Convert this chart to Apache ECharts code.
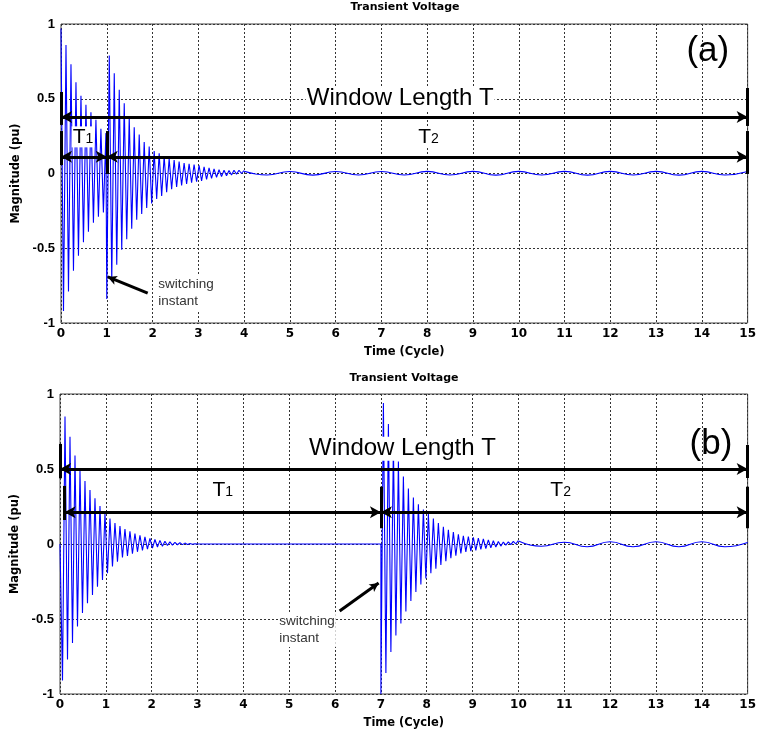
<!DOCTYPE html>
<html>
<head>
<meta charset="utf-8">
<title>Transient Voltage</title>
<script src="https://cdn.jsdelivr.net/npm/echarts@6/dist/echarts.min.js"></script>
<style>
  html, body { margin: 0; padding: 0; background: #fff; }
  #chart { width: 759px; height: 736px; }
</style>
</head>
<body>
<div id="chart"></div>
<script>
// tick labels
const xTicks = [0, 1, 2, 3, 4, 5, 6, 7, 8, 9, 10, 11, 12, 13, 14, 15];
const yTicks = [-1, -0.5, 0, 0.5, 1];

const halfStep = 0.0545;
// slow ripple after the ringing dies out, one value every half cycle
const rippleStep = 0.5;

// (a) switching at t = 1
const aStart1 = 0;
const aWave1 = [0.97, -0.92, 0.86, -0.79, 0.73, -0.65, 0.61, -0.55, 0.52, -0.46,
  0.46, -0.39, 0.41, -0.33, 0.36, -0.29, 0.30, -0.26, 0.27];
const aSwitch = 1;
const aWave2 = [-0.84, 0.79, -0.72, 0.67, -0.61, 0.56, -0.51, 0.47, -0.44, 0.38,
  -0.37, 0.31, -0.31, 0.26, -0.27, 0.21, -0.23, 0.18, -0.20, 0.15,
  -0.17, 0.135, -0.15, 0.115, -0.125, 0.10, -0.105, 0.09, -0.09, 0.08,
  -0.08, 0.07, -0.07, 0.065, -0.062, 0.06, -0.055, 0.055, -0.05, 0.045,
  -0.04, 0.037, -0.032, 0.03, -0.025, 0.025, -0.02, 0.022, -0.015, 0.02,
  -0.01, 0.022, -0.005, 0.022, 0.0, 0.02];
const aTailStart = 4;
const aTail = [0.015, -0.010, 0.013, -0.011, 0.013, -0.010, 0.013, -0.010, 0.014, -0.010,
  0.014, -0.011, 0.014, -0.010, 0.014, -0.011, 0.014, -0.010, 0.014, -0.011,
  0.014, -0.010, 0.013];

// (b) switching at t = 7
const bStart1 = 0;
const bWave1 = [0.0, -0.91, 0.85, -0.77, 0.715, -0.66, 0.59, -0.55, 0.49, -0.46,
  0.42, -0.395, 0.36, -0.34, 0.305, -0.285, 0.253, -0.24, 0.207, -0.195,
  0.17, -0.15, 0.14, -0.118, 0.12, -0.09, 0.10, -0.08, 0.085, -0.065,
  0.07, -0.052, 0.058, -0.042, 0.047, -0.034, 0.038, -0.027, 0.03, -0.02,
  0.024, -0.015, 0.018, -0.01, 0.014, -0.007, 0.011, -0.005, 0.008, -0.004,
  0.006, -0.003, 0.004, -0.002, 0.002, 0.0];
const bQuiet = 0;
const bSwitch = 7;
const bWave2 = [-1.0, 0.94, -0.86, 0.80, -0.72, 0.66, -0.61, 0.55, -0.53, 0.45,
  -0.45, 0.37, -0.38, 0.31, -0.32, 0.265, -0.27, 0.23, -0.23, 0.20,
  -0.195, 0.17, -0.165, 0.14, -0.14, 0.115, -0.115, 0.095, -0.095, 0.08,
  -0.078, 0.065, -0.063, 0.055, -0.052, 0.05, -0.047, 0.045, -0.042, 0.04,
  -0.036, 0.034, -0.03, 0.028, -0.025, 0.022, -0.02, 0.017, -0.014, 0.013,
  -0.008, 0.014, -0.004, 0.018, 0.0, 0.022];
const bTailStart = 10;
const bTail = [0.02, -0.015, 0.012, -0.018, 0.015, -0.018, 0.015, -0.018, 0.015, -0.018, 0.01];

function ringing(start, values) {
  return values.map((v, i) => [+(start + i * halfStep).toFixed(4), v]);
}
function ripple(start, values) {
  return values.map((v, i) => [start + i * rippleStep, v]);
}

const blue = '#0000ff';
const labelFont = 'Liberation Sans, Arial, sans-serif';
const axisFont = 'DejaVu Sans, sans-serif';

// arrows and bars of the window sketch
function arrow(x1, y1, x2, y2, both, width) {
  return [
    { coord: [x1, y1], symbol: both ? 'arrow' : 'none', symbolSize: [9, 11] },
    { coord: [x2, y2], symbol: 'arrow', symbolSize: width < 2 ? [7, 9] : [9, 11],
      lineStyle: { width: width } }
  ];
}
function bar(x, y1, y2) {
  return [{ coord: [x, y1], symbol: 'none' }, { coord: [x, y2], symbol: 'none' }];
}
function text(x, y, str, opts) {
  return {
    coord: [x, y],
    symbol: 'circle', symbolSize: 1,
    itemStyle: { color: 'rgba(0,0,0,0)' },
    label: Object.assign({
      show: true, position: 'inside', formatter: str,
      fontFamily: labelFont, color: '#000'
    }, opts)
  };
}
const subRich = {
  t: { fontFamily: labelFont, fontSize: 21, color: '#000' },
  s: { fontFamily: labelFont, fontSize: 14, color: '#000', verticalAlign: 'bottom', padding: [0, 0, 1, 0] }
};
const boxed = { backgroundColor: '#fff', padding: [0, 1] };

function markers(p) {
  return {
    markLine: {
      silent: true, animation: false,
      label: { show: false },
      lineStyle: { color: '#000', width: 2.5, type: 'solid' },
      data: [
        arrow(0, p.winY, 15, p.winY, true, 2.5),
        arrow(p.t1From, p.tY, p.sw, p.tY, true, 2.5),
        arrow(p.sw, p.tY, 15, p.tY, true, 2.5),
        bar(p.winBarX, p.winBar[0], p.winBar[1]),
        bar(15, p.winBarR[0], p.winBarR[1]),
        bar(p.t1BarX, p.tBar[0], p.tBar[1]),
        bar(p.sw, p.swBar[0], p.swBar[1]),
        bar(15, p.swBar[0], p.swBar[1]),
        arrow(p.note[0], p.note[1], p.noteTip[0], p.noteTip[1], false, 1.3)
      ].map(d => { d.forEach(e => { e.lineStyle = Object.assign({ color: '#000', width: 3 }, e.lineStyle); }); return d; })
    },
    markPoint: {
      silent: true, animation: false,
      data: [
        text(p.winText[0], p.winText[1], 'Window Length T', Object.assign({ fontSize: 24 }, boxed)),
        text(p.t1Text[0], p.t1Text[1], '{t|T}{s|1}', Object.assign({ rich: subRich }, boxed)),
        text(p.t2Text[0], p.t2Text[1], '{t|T}{s|2}', Object.assign({ rich: subRich }, boxed)),
        text(p.tag[0], p.tag[1], p.tagText, { fontSize: 35 }),
        text(p.noteText[0], p.noteText[1], 'switching\ninstant',
          Object.assign({ position: 'right', distance: 0, fontSize: 13.5, lineHeight: 17, color: '#333', align: 'left' }, boxed))
      ]
    }
  };
}

const panelA = {
  winY: 0.378, tY: 0.112, sw: aSwitch, t1From: 0,
  winBarX: 0, winBar: [0.545, 0.325], winBarR: [0.572, 0.318],
  t1BarX: 0, tBar: [0.284, 0.057], swBar: [0.284, -0.003],
  note: [1.894, -0.80], noteTip: [1.023, -0.692],
  winText: [7.41, 0.50], t1Text: [0.48, 0.245], t2Text: [8.03, 0.245],
  tag: [14.13, 0.82], tagText: '(a)', noteText: [2.09, -0.80]
};
const panelB = {
  winY: 0.5, tY: 0.211, sw: bSwitch, t1From: 0.1,
  winBarX: 0.01, winBar: [0.667, 0.438], winBarR: [0.66, 0.44],
  t1BarX: 0.083, tBar: [0.387, 0.16], swBar: [0.382, 0.105],
  note: [6.10, -0.447], noteTip: [6.95, -0.26],
  winText: [7.47, 0.635], t1Text: [3.55, 0.36], t2Text: [10.92, 0.36],
  tag: [14.2, 0.665], tagText: '(b)', noteText: [4.75, -0.573]
};

const waveA = ringing(aStart1, aWave1).concat(ringing(aSwitch, aWave2));
const waveB = ringing(bStart1, bWave1).concat([[bSwitch, bQuiet]], ringing(bSwitch, bWave2));

const lineBase = { type: 'line', showSymbol: false, symbol: 'none', silent: true,
  lineStyle: { color: blue, width: 1.1 }, itemStyle: { color: blue }, z: 2 };

const chart = echarts.init(document.getElementById('chart'));
chart.setOption({
  animation: false,
  backgroundColor: '#fff',
  title: [
    { text: 'Transient Voltage', left: 405, top: 1.5, textAlign: 'center', padding: 0,
      textStyle: { fontFamily: axisFont, fontWeight: 'bold', fontSize: 11, color: '#000' } },
    { text: 'Transient Voltage', left: 404, top: 372.5, textAlign: 'center', padding: 0,
      textStyle: { fontFamily: axisFont, fontWeight: 'bold', fontSize: 11, color: '#000' } }
  ],
  grid: [
    { left: 61, top: 24, width: 689, height: 299, show: true, borderColor: '#444', borderWidth: 1 },
    { left: 60, top: 394, width: 689, height: 300, show: true, borderColor: '#444', borderWidth: 1 }
  ],
  xAxis: [0, 1].map(i => ({
    gridIndex: i, type: 'value',
    min: xTicks[0], max: xTicks[xTicks.length - 1], interval: 1,
    name: 'Time (Cycle)', nameLocation: 'middle', nameGap: 23,
    nameTextStyle: { fontFamily: axisFont, fontWeight: 'bold', fontSize: 11.5, color: '#000' },
    axisLine: { show: false }, axisTick: { show: false },
    axisLabel: { fontFamily: axisFont, fontWeight: 'bold', fontSize: 12, color: '#000', margin: 5 },
    splitLine: { show: true, lineStyle: { color: '#333', type: [2, 2], width: 1 } }
  })),
  yAxis: [0, 1].map(i => ({
    gridIndex: i, type: 'value',
    min: yTicks[0], max: yTicks[yTicks.length - 1], interval: 0.5,
    name: 'Magnitude (pu)', nameLocation: 'middle', nameGap: 36,
    nameTextStyle: { fontFamily: axisFont, fontWeight: 'bold', fontSize: 11.5, color: '#000' },
    axisLine: { show: false }, axisTick: { show: false },
    axisLabel: { fontFamily: labelFont, fontWeight: 'bold', fontSize: 13, color: '#000', margin: 6 },
    splitLine: { show: true, lineStyle: { color: '#333', type: [2, 2], width: 1 } }
  })),
  series: [
    Object.assign({}, lineBase, { xAxisIndex: 0, yAxisIndex: 0, data: waveA }),
    Object.assign({}, lineBase, { xAxisIndex: 0, yAxisIndex: 0, data: ripple(aTailStart, aTail), smooth: 0.5 }, markers(panelA)),
    Object.assign({}, lineBase, { xAxisIndex: 1, yAxisIndex: 1, data: waveB }),
    Object.assign({}, lineBase, { xAxisIndex: 1, yAxisIndex: 1, data: ripple(bTailStart, bTail), smooth: 0.5 }, markers(panelB))
  ]
});
</script>
</body>
</html>
